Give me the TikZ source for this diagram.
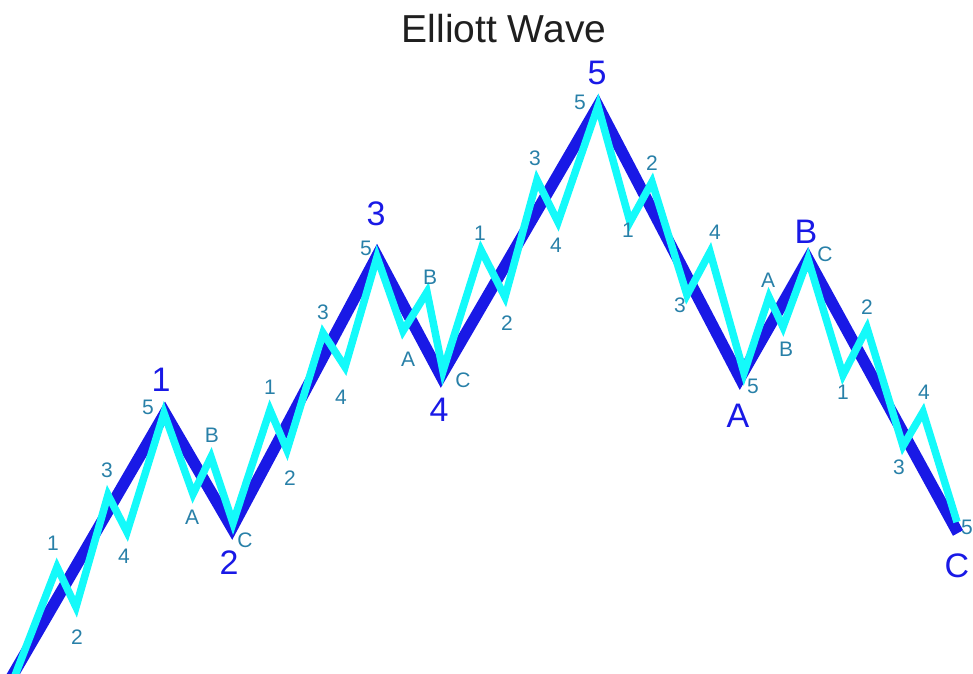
\documentclass[tikz,border=0pt]{standalone}
\usepackage{fontspec}
\setmainfont{Liberation Sans}
\definecolor{wavemain}{RGB}{25,25,230}
\definecolor{wavesub}{RGB}{20,250,250}
\definecolor{sublabel}{RGB}{40,128,168}
\tikzset{
  mainwave/.style={wavemain,line width=11.5pt,line join=miter},
  subwave/.style={wavesub,line width=7.5pt,line join=miter},
  biglbl/.style={text=wavemain,font=\fontsize{34}{34}\selectfont,inner sep=0pt},
  smalllbl/.style={text=sublabel,font=\fontsize{21}{21}\selectfont,inner sep=0pt}
}

\begin{document}
\begin{tikzpicture}[x=1pt,y=-1pt]
        \useasboundingbox (0,0) rectangle (973,673);
        % main wave
        \foreach \n/\x/\y in {0/11/678,1/165/413,2/232/528,3/377/256,4/441/376,
                               5/598/106,6/740/378,7/808/259,8/958/533}
            \coordinate (m\n) at (\x,\y);
        % sub waves
        \foreach \n/\x/\y in {0/14/678,1/57/567,2/76/607,3/108/495,4/127/532,
                               5/164/413,6/193/494,7/211/457,8/233/523,
                               9/270/410,10/287/450,11/323/333,12/345/367,13/377/257,
                               14/403/331,15/427/292,16/443/371,
                               17/481/250,18/505/297,19/537/180,20/558/222,21/598/106,
                               22/630/222,23/652/182,24/687/295,25/710/252,26/744/373,
                               27/769/297,28/783/327,29/808/259,
                               30/843/375,31/867/328,32/903/446,33/923/412,34/957/522}
            \coordinate (s\n) at (\x,\y);

        \draw[mainwave] (m0) \foreach \i in {1,...,8}{-- (m\i)};
        \draw[subwave] (s0) \foreach \i in {1,...,34}{-- (s\i)};

        \node[font=\fontsize{39}{39}\selectfont,text=black!88,inner sep=0pt] (title) at (504,29) {Elliott Wave};

        \foreach \t/\x/\y [count=\k] in {1/161/380,2/229/563,3/376/214,4/439/410,
                                         5/597/73,A/738/416,B/806/232,C/957/566}
            \node[biglbl] (big\k) at (\x,\y) {\t};

        \foreach \t/\x/\y [count=\k] in {1/53/543,2/77/637,3/107/470,4/124/556,5/148/407,
                                         A/192/517,B/212/435,C/245/540,
                                         1/270/387,2/290/478,3/323/312,4/341/397,5/366/248,
                                         A/408/359,B/430/277,C/463/380,
                                         1/480/233,2/507/323,3/535/158,4/556/245,5/580/102,
                                         1/628/230,2/652/163,3/680/305,4/715/232,5/753/386,
                                         A/768/280,B/786/349,C/825/254,
                                         1/843/392,2/867/307,3/899/467,4/924/392,5/967/527}
            \node[smalllbl] (sub\k) at (\x,\y) {\t};
    \end{tikzpicture}
\end{document}
